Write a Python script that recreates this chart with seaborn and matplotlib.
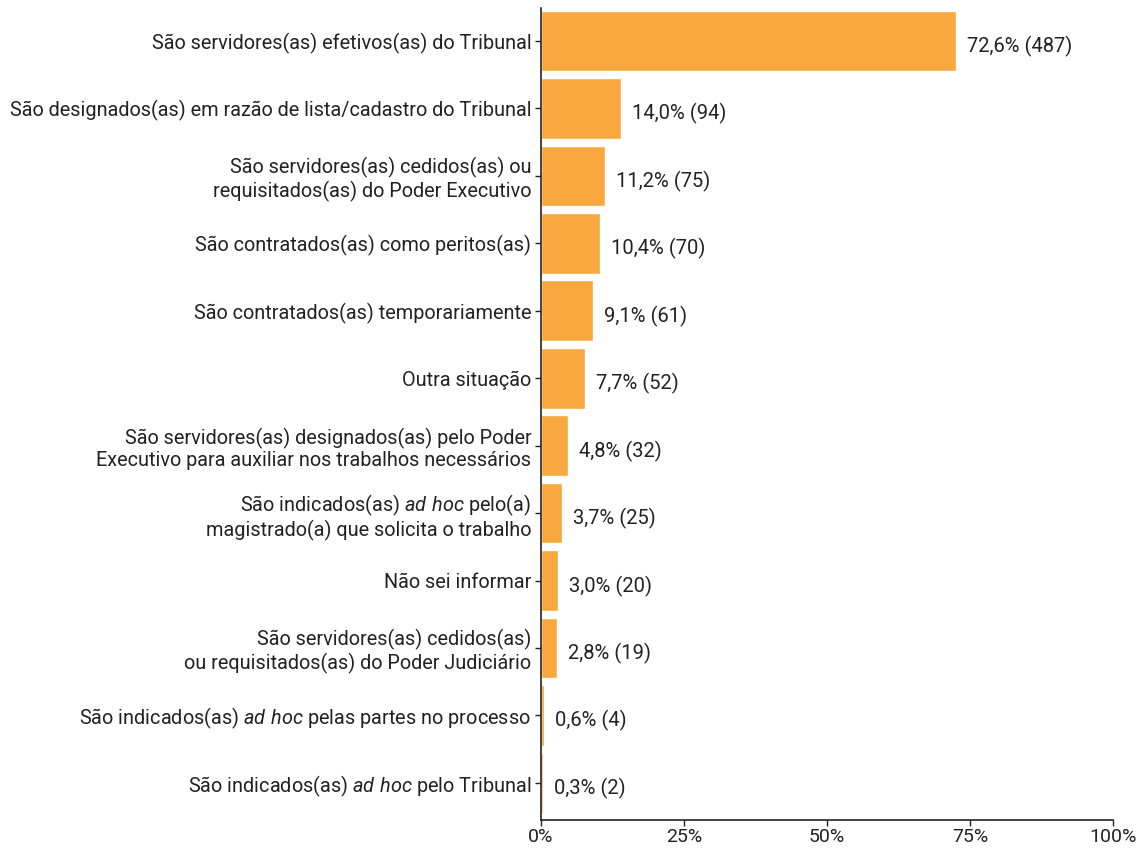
import pandas as pd
import matplotlib
matplotlib.use("Agg")
import matplotlib.pyplot as plt
import seaborn as sns

categories = [
    "São servidores(as) efetivos(as) do Tribunal",
    "São designados(as) em razão de lista/cadastro do Tribunal",
    "São servidores(as) cedidos(as) ou\nrequisitados(as) do Poder Executivo",
    "São contratados(as) como peritos(as)",
    "São contratados(as) temporariamente",
    "Outra situação",
    "São servidores(as) designados(as) pelo Poder\nExecutivo para auxiliar nos trabalhos necessários",
    "São indicados(as) $\\mathit{ad\\ hoc}$ pelo(a)\nmagistrado(a) que solicita o trabalho",
    "Não sei informar",
    "São servidores(as) cedidos(as)\nou requisitados(as) do Poder Judiciário",
    "São indicados(as) $\\mathit{ad\\ hoc}$ pelas partes no processo",
    "São indicados(as) $\\mathit{ad\\ hoc}$ pelo Tribunal",
]
percent = [72.6, 14.0, 11.2, 10.4, 9.1, 7.7, 4.8, 3.7, 3.0, 2.8, 0.6, 0.3]
counts = [487, 94, 75, 70, 61, 52, 32, 25, 20, 19, 4, 2]
xticks = [0, 25, 50, 75, 100]

df = pd.DataFrame({"cat": categories, "pct": percent, "n": counts})

sns.set_style("white")
plt.rcParams["font.family"] = ["Roboto", "DejaVu Sans"]
plt.rcParams["mathtext.fontset"] = "custom"
plt.rcParams["mathtext.rm"] = "Roboto"
plt.rcParams["mathtext.it"] = "Roboto:italic"

fig = plt.figure(figsize=(11.47, 8.49), dpi=100)
ax = fig.add_axes([541 / 1147, 29 / 849, 572 / 1147, 812 / 849])

sns.barplot(data=df, x="pct", y="cat", color="#F8A83F", saturation=1,
            width=0.9, ax=ax)

for i, (p, n) in enumerate(zip(percent, counts)):
    ax.text(p + 1.9, i + 0.08, f"{p:.1f}".replace(".", ",") + f"% ({n})",
            va="center", ha="left", fontsize=14.5, color="#222222")

ax.set_xlim(0, 100)
ax.set_ylim(11.55, -0.49)
ax.set_xticks(xticks)
ax.set_xticklabels([f"{t}%" for t in xticks])
ax.set_xlabel("")
ax.set_ylabel("")
for s in ["top", "right"]:
    ax.spines[s].set_visible(False)
for s in ["left", "bottom"]:
    ax.spines[s].set_color("#222222")
    ax.spines[s].set_linewidth(1.2)
ax.tick_params(axis="both", which="both", length=4, width=1, color="#222222",
               labelsize=14.3, labelcolor="#222222", bottom=True, left=True)
ax.tick_params(axis="y", pad=3)
ax.tick_params(axis="x", pad=2, labelsize=14)
for lab in ax.get_yticklabels():
    lab.set_linespacing(1.15)

fig.savefig("out.png", dpi=100)
